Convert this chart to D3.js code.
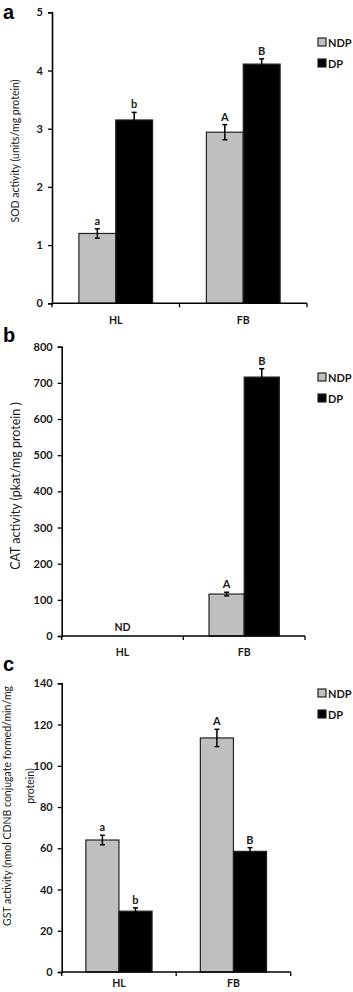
<!DOCTYPE html>
<html><head><meta charset="utf-8">
<script src="https://cdn.jsdelivr.net/npm/d3@7"></script>
<style>
body{margin:0;background:#fff;}
svg{display:block;font-family:Lato,"Open Sans",sans-serif;}
</style></head>
<body><svg id="chart" width="353" height="992"></svg>
<script>
const categories = ["HL","FB"];
const seriesNames = ["NDP","DP"];
const seriesColors = ["#bfbfbf","#000000"];

// Panel a: SOD
const sodNDP = [1.20, 2.94];
const sodDP = [3.15, 4.11];
const sodErrNDP = [0.08, 0.13];
const sodErrDP = [0.13, 0.09];
const sodLetNDP = ["a","A"];
const sodLetDP = ["b","B"];
const sodTicks = [0,1,2,3,4,5];

// Panel b: CAT (HL not detected)
const catNDP = [null, 116];
const catDP = [null, 716];
const catErrNDP = [null, 5];
const catErrDP = [null, 23];
const catLetNDP = ["", "A"];
const catLetDP = ["", "B"];
const catTicks = [0,100,200,300,400,500,600,700,800];

// Panel c: GST
const gstNDP = [64, 113.5];
const gstDP = [29.5, 58.5];
const gstErrNDP = [2.3, 4.2];
const gstErrDP = [1.6, 1.8];
const gstLetNDP = ["a","A"];
const gstLetDP = ["b","B"];
const gstTicks = [0,20,40,60,80,100,120,140];

const panels = [
  {label:"a", title:["SOD activity (units/mg protein)"], vals:[sodNDP,sodDP], errs:[sodErrNDP,sodErrDP], lets:[sodLetNDP,sodLetDP], ticks:sodTicks,
   x0:52, x1:307, y0:303.3, yTop:12.3, labelY:19, legY:42, titleX:[15], titleY:[151], titleSize:10.5, catDy:21, nd:null},
  {label:"b", title:["CAT activity (pkat/mg protein )"], vals:[catNDP,catDP], errs:[catErrNDP,catErrDP], lets:[catLetNDP,catLetDP], ticks:catTicks,
   x0:61.7, x1:305, y0:636, yTop:346.7, labelY:342, legY:377, titleX:[15], titleY:[486], titleSize:12.5, catDy:20, nd:"ND"},
  {label:"c", title:["GST activity (nmol CDNB conjugate formed/min/mg","protein)"], vals:[gstNDP,gstDP], errs:[gstErrNDP,gstErrDP], lets:[gstLetNDP,gstLetDP], ticks:gstTicks,
   x0:61.7, x1:290.7, y0:972, yTop:683.3, labelY:671, legY:693, titleX:[7,30], titleY:[806,786], titleSize:10.5, catDy:15, nd:null}
];

const svg = d3.select("#chart");

panels.forEach(p => {
  const g = svg.append("g");
  const y = d3.scaleLinear().domain([0, d3.max(p.ticks)]).range([p.y0, p.yTop]);
  const x = d3.scaleBand().domain(categories).range([p.x0, p.x1]).paddingInner(0).paddingOuter(0);
  const xi = d3.scaleBand().domain(seriesNames).range([0, x.bandwidth()]).paddingInner(0).paddingOuter(0.73);

  // panel label
  g.append("text").attr("x",3).attr("y",p.labelY).attr("font-family","'Liberation Sans',Arial,sans-serif")
    .attr("font-weight","bold").attr("font-size",20).attr("fill","#000").text(p.label);

  // y axis
  const yAxis = d3.axisLeft(y).tickValues(p.ticks).tickSize(4).tickPadding(5).tickFormat(d3.format("d"));
  const ya = g.append("g").attr("transform",`translate(${p.x0},0)`).call(yAxis);
  ya.select(".domain").attr("stroke","#000").attr("stroke-width",1.6);
  ya.selectAll(".tick line").attr("stroke","#000").attr("stroke-width",1.3);
  ya.selectAll(".tick text").attr("font-size",11).attr("font-weight","bold").attr("fill","#1a1a1a").attr("font-family","Lato,sans-serif");

  // y title
  p.title.forEach((t,i) => {
    g.append("text").attr("transform",`translate(${p.titleX[i]},${p.titleY[i]}) rotate(-90)`)
      .attr("text-anchor","middle").attr("dominant-baseline","central")
      .attr("font-size",p.titleSize).attr("fill","#1a1a1a").attr("font-family","Lato,sans-serif").text(t);
  });

  // bars
  seriesNames.forEach((s, si) => {
    categories.forEach((c, ci) => {
      const v = p.vals[si][ci];
      if (v == null) return;
      const bx = x(c) + xi(s), bw = xi.bandwidth();
      g.append("rect").attr("x",bx).attr("y",y(v)).attr("width",bw).attr("height",y(0)-y(v))
        .attr("fill",seriesColors[si]).attr("stroke","#222").attr("stroke-width",1.2);
      const e = p.errs[si][ci];
      const cx = bx + bw/2;
      g.append("line").attr("x1",cx).attr("x2",cx).attr("y1",y(v-e)).attr("y2",y(v+e)).attr("stroke","#000").attr("stroke-width",1.5);
      [v-e, v+e].forEach(ev => g.append("line").attr("x1",cx-2.5).attr("x2",cx+2.5).attr("y1",y(ev)).attr("y2",y(ev)).attr("stroke","#000").attr("stroke-width",1.5));
      g.append("text").attr("x",cx).attr("y",y(v+e)-4).attr("text-anchor","middle")
        .attr("font-size",11).attr("font-weight","bold").attr("fill","#1a1a1a").attr("font-family","Lato,sans-serif").text(p.lets[si][ci]);
    });
  });

  // x axis
  const xa = g.append("g").attr("transform",`translate(0,${p.y0})`);
  xa.append("line").attr("x1",p.x0).attr("x2",p.x1).attr("y1",0).attr("y2",0).attr("stroke","#000").attr("stroke-width",1.6);
  const bounds = categories.map(c => x(c)).concat([p.x1]);
  bounds.forEach(b => xa.append("line").attr("x1",b).attr("x2",b).attr("y1",0).attr("y2",4).attr("stroke","#000").attr("stroke-width",1.3));
  categories.forEach(c => xa.append("text").attr("x",x(c)+x.bandwidth()/2).attr("y",p.catDy).attr("text-anchor","middle")
    .attr("font-size",10.5).attr("font-weight","bold").attr("fill","#1a1a1a").attr("font-family","Lato,sans-serif").text(c));

  if (p.nd) {
    g.append("text").attr("x",x("HL")+x.bandwidth()/2).attr("y",p.y0-5).attr("text-anchor","middle")
      .attr("font-size",10.5).attr("font-weight","bold").attr("fill","#1a1a1a").attr("font-family","Lato,sans-serif").text(p.nd);
  }

  // legend
  seriesNames.forEach((s, si) => {
    const ly = p.legY + si*21;
    g.append("rect").attr("x",318).attr("y",ly-4).attr("width",8).attr("height",8)
      .attr("fill",seriesColors[si]).attr("stroke","#222").attr("stroke-width",1.2);
    g.append("text").attr("x",328).attr("y",ly).attr("dominant-baseline","central")
      .attr("font-size",11).attr("font-weight","bold").attr("fill","#1a1a1a").attr("font-family","Lato,sans-serif").text(s);
  });
});
</script></body></html>
